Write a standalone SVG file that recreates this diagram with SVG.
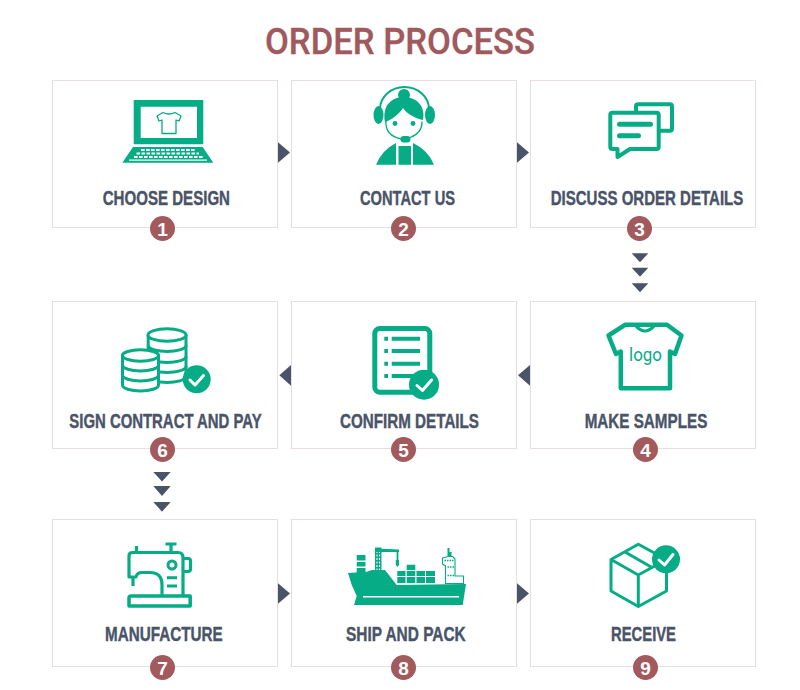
<svg xmlns="http://www.w3.org/2000/svg" width="800" height="690" viewBox="0 0 800 690">
<style>
.card{fill:#fff;stroke:#e8dde0;stroke-width:1}
.lbl{font-family:"Liberation Sans",Arial,sans-serif;font-weight:700;font-size:19.5px;fill:#4a5468;stroke:#4a5468;stroke-width:.4}
.badge{fill:#a25a5d}
.num{font-family:"Liberation Sans",Arial,sans-serif;font-weight:700;font-size:19px;fill:#fff;text-anchor:middle}
.g{fill:#06ac86}
.s{fill:none;stroke:#06ac86;stroke-linejoin:round;stroke-linecap:round}
.w{fill:#fff;stroke:#06ac86;stroke-linejoin:round}
.chk{fill:none;stroke:#fff;stroke-width:3;stroke-linecap:round;stroke-linejoin:round}
.arr{fill:#4a5468}
.key{fill:none;stroke:#fff;stroke-width:2.2;stroke-dasharray:3.6 1.4}
</style>
<rect width="800" height="690" fill="#fff"/>
<text id="title" x="265" y="53.500" textLength="270" lengthAdjust="spacingAndGlyphs" font-family="Roboto,'Liberation Sans',sans-serif" font-weight="500" font-size="36.500" fill="#a05a5e" stroke="#a05a5e" stroke-width=".3">ORDER PROCESS</text>

<g id="node1">
<rect class="card" x="52.500" y="80.500" width="225" height="147"/>
<path class="g" fill-rule="evenodd" d="M133.700 100H203.300V144.300H133.700ZM140.700 106.700V138H197V106.700Z"/>
<path class="s" stroke-width="1.300" d="M163 112.500l-6 3.500 2 5 3-1v13.500h14V120l3 1 2-5-6-3.500q-6 3-12 0Z"/>
<path class="g" d="M133 147H202.700L213.300 162.700H122.300Z"/>
<path class="key" d="M141 150H196M136.500 153.500H199M134 157H203"/>
<path d="M129 160.200H207" stroke="#fff" stroke-width="1.200"/>
<text class="lbl" x="102.700" y="205" textLength="127.300" lengthAdjust="spacingAndGlyphs">CHOOSE DESIGN</text>
<circle class="badge" cx="162.500" cy="228.500" r="12.500"/><text class="num" x="162.500" y="235.500">1</text>
</g>

<g id="node2">
<rect class="card" x="291.500" y="80.500" width="225" height="147"/>
<path class="s" stroke-width="2" d="M380 110V109A24.500 22 0 0 1 429 109V110"/>
<ellipse class="g" cx="378.500" cy="115" rx="5" ry="9"/>
<ellipse class="g" cx="430" cy="115" rx="5" ry="9"/>
<circle class="g" cx="404" cy="95" r="6"/>
<ellipse cx="404" cy="119" rx="17" ry="18" fill="#fff"/>
<path class="g" d="M385 122C382 105 392 97 404 97C416 97 426 106 423 120C415 118 407 114 403 108C399 114 392 120 385 122Z"/>
<circle class="g" cx="395" cy="123.500" r="2.400"/><circle class="g" cx="413" cy="123.500" r="2.400"/>
<path class="s" stroke-width="1.300" d="M386 120C385 130 390 137 402 139"/>
<path class="s" stroke-width="1.300" d="M422 122C422 130 417 135 410 137.500"/>
<rect class="g" x="400.500" y="136" width="10" height="6.500" rx="3.200"/>
<path class="g" d="M376 164.700Q382 150 396 143V164.700ZM398.500 146H411V164.700H398.500ZM413 143Q428 150 434 164.700H413Z"/>
<text class="lbl" x="360" y="205" textLength="95" lengthAdjust="spacingAndGlyphs">CONTACT US</text>
<circle class="badge" cx="403.500" cy="228.500" r="12.500"/><text class="num" x="403.500" y="235.500">2</text>
</g>

<g id="node3">
<rect class="card" x="530.500" y="80.500" width="225" height="147"/>
<path class="s" stroke-width="4" d="M636 112V106.500Q636 104.300 638.200 104.300H669.800Q672 104.300 672 106.500V128.500Q672 130.700 669.800 130.700H659"/>
<path class="s" fill="#fff" stroke-width="4" d="M612.500 112.700H656.500Q658.700 112.700 658.700 114.900V146.800Q658.700 149 656.500 149H630L617.500 157V149H612.500Q610.300 149 610.300 146.800V114.900Q610.300 112.700 612.500 112.700Z"/>
<path class="s" stroke-width="5" d="M619.500 124.300H650.500M619.500 135.700H638.500"/>
<text class="lbl" x="550.700" y="205" textLength="192.600" lengthAdjust="spacingAndGlyphs">DISCUSS ORDER DETAILS</text>
<circle class="badge" cx="639.500" cy="228.500" r="12.500"/><text class="num" x="639.500" y="235.500">3</text>
</g>

<g id="node4">
<rect class="card" x="530.500" y="301.500" width="225" height="147"/>
<path class="s" fill="#fff" stroke-width="4.500" d="M625 324.800H667L681.500 335.500L675 354L670 351.500V388.300H620.800V351.500L616 354L608.500 335.500Z"/>
<path class="s" stroke-width="3" d="M635 325Q645 337 655 325"/>
<text x="629" y="361" textLength="33" lengthAdjust="spacingAndGlyphs" font-family="Roboto,'Liberation Sans',sans-serif" font-size="18" fill="#06ac86">logo</text>
<text class="lbl" x="584.700" y="427.500" textLength="122.600" lengthAdjust="spacingAndGlyphs">MAKE SAMPLES</text>
<circle class="badge" cx="645.500" cy="449.500" r="12.500"/><text class="num" x="645.500" y="456.500">4</text>
</g>

<g id="node5">
<rect class="card" x="291.500" y="301.500" width="225" height="147"/>
<rect class="s" fill="#fff" stroke-width="5" x="374.800" y="328.500" width="55" height="63.700" rx="5"/>
<path class="s" stroke-width="4" d="M384.300 338.700H388M391.700 338.700H420M384.300 351H388M391.700 351H420M384.300 363.700H388M391.700 363.700H420M384.300 376H388M391.700 376H420" style="stroke-linecap:butt"/>
<circle class="g" cx="424" cy="384.700" r="15"/>
<path class="chk" d="M417 385.500L422.500 390.500L431.500 380"/>
<text class="lbl" x="340" y="427.500" textLength="139" lengthAdjust="spacingAndGlyphs">CONFIRM DETAILS</text>
<circle class="badge" cx="403.500" cy="449.500" r="12.500"/><text class="num" x="403.500" y="456.500">5</text>
</g>

<g id="node6">
<rect class="card" x="52.500" y="301.500" width="225" height="147"/>
<path class="w" stroke-width="3" d="M148.200 335V377A19 6 0 0 0 186 377V335Z"/>
<ellipse class="w" stroke-width="3" cx="167" cy="335" rx="19" ry="6.200"/>
<path class="s" stroke-width="3" d="M148.200 346A19 6 0 0 0 186 346M148.200 357A19 6 0 0 0 186 357M148.200 367A19 6 0 0 0 186 367"/>
<path class="w" stroke-width="3" d="M122.500 355V385A18 6 0 0 0 158.500 385V355Z"/>
<ellipse class="w" stroke-width="3" cx="140.500" cy="355.500" rx="18" ry="5.700"/>
<path class="s" stroke-width="3" d="M122.500 365A18 6 0 0 0 158.500 365M122.500 375A18 6 0 0 0 158.500 375"/>
<circle class="g" cx="196.700" cy="379.300" r="14"/>
<path class="chk" d="M190 380L195 385L203.500 375.500"/>
<text class="lbl" x="69.300" y="428" textLength="192.400" lengthAdjust="spacingAndGlyphs">SIGN CONTRACT AND PAY</text>
<circle class="badge" cx="162.500" cy="449.500" r="12.500"/><text class="num" x="162.500" y="456.500">6</text>
</g>

<g id="node7">
<rect class="card" x="52.500" y="519.500" width="225" height="147"/>
<path class="s" stroke-width="3.200" d="M162 595.500V585Q162 572.500 150 572.500H142Q137 572.500 136 577H129V556Q129 552.500 132.500 552.500H178Q183 552.500 183 557.500V595.500" style="stroke-linecap:butt"/>
<path class="s" stroke-width="3.200" d="M136.500 552V546M171 552V544M165.500 544H176.500M133 578V586M184 558.500H188Q190.500 558.500 190.500 561V569Q190.500 571.500 188 571.500H184" style="stroke-linecap:butt"/>
<circle class="s" stroke-width="3" cx="172" cy="565" r="4"/>
<path class="s" stroke-width="3" d="M167 577.700H177M167 586H177" style="stroke-linecap:butt"/>
<path class="s" stroke-width="3.500" d="M129 606V598Q129 596 131 596H190.200V606Z"/>
<text class="lbl" x="105" y="640.500" textLength="117.700" lengthAdjust="spacingAndGlyphs">MANUFACTURE</text>
<circle class="badge" cx="162.500" cy="667.500" r="12.500"/><text class="num" x="162.500" y="674.500">7</text>
</g>

<g id="node8">
<rect class="card" x="291.500" y="519.500" width="225" height="147"/>
<path class="g" d="M356.700 555H365.500V560.500H356.700ZM356.700 562H365.500V566.500H356.700ZM356.700 568H365.500V573.500H356.700Z"/>
<path class="g" d="M348 573L367 571.700L372 570L385 570L396.700 585L466 584L462.700 605H354L356.700 596Q351 585 348 573Z"/>
<path d="M363 596.700H459" stroke="#fff" stroke-width="1.500"/>
<path class="g" d="M375 547.500H381.500V572H375Z"/>
<path d="M377 551V570M379.500 551V570" stroke="#fff" stroke-width="1.100" stroke-dasharray="2 1.500"/>
<path class="g" d="M375 548.500L399 549.500V552L375 552Z"/>
<path class="s" stroke-width="1.800" d="M397.500 550.500V560" style="stroke-linecap:butt"/>
<path class="g" d="M395.800 560H399V565L397.500 567L395.800 565Z"/>
<path class="g" d="M406.700 564.700H415.300V570H406.700ZM397.300 571H405.500V576H397.300ZM406.700 571H415.300V576H406.700ZM416.500 571H425V576H416.500ZM426 571H435V576H426ZM397.300 577H405.500V583H397.300ZM406.700 577H415.300V583H406.700ZM416.500 577H425V583H416.500ZM426 577H435V583H426Z"/>
<path class="w" stroke-width="1.100" d="M442.500 561V558L448 556.500H452.500L455 559V576H463.500V583.500H445.500V566L442.500 564Z"/>
<path class="g" d="M447.500 548H449.500V552H451.500V556.500H447.500Z"/>
<path d="M444.500 560.500H454M447.500 567H454M447.500 575.500H454" stroke="#06ac86" stroke-width="1.300" stroke-dasharray="1.500 1"/>
<text class="lbl" x="346" y="640.500" textLength="119.700" lengthAdjust="spacingAndGlyphs">SHIP AND PACK</text>
<circle class="badge" cx="403.500" cy="667.500" r="12.500"/><text class="num" x="403.500" y="674.500">8</text>
</g>

<g id="node9">
<rect class="card" x="530.500" y="519.500" width="225" height="147"/>
<path class="s" stroke-width="3" d="M638.300 544.300L666.500 559.500V591L638.300 606.500L611 591V559.500ZM611 559.500L638.300 575L666.500 559.500M638.300 575V606.500M625 552L652 567.500"/>
<circle class="g" cx="666" cy="559.300" r="14"/>
<path class="chk" d="M659 560L664.500 565L673 554.500"/>
<text class="lbl" x="611" y="640.500" textLength="65" lengthAdjust="spacingAndGlyphs">RECEIVE</text>
<circle class="badge" cx="645.500" cy="667.500" r="12.500"/><text class="num" x="645.500" y="674.500">9</text>
</g>

<g id="connectors">
<path class="arr" d="M278 142.300L290 152.500L278 162.700Z"/>
<path class="arr" d="M517 142.300L529 152.500L517 162.700Z"/>
<path class="arr" d="M631.700 253.300H648.300L640 262.300ZM631.700 267.700H648.300L640 276.700ZM631.700 283.300H648.300L640 292.300Z"/>
<path class="arr" d="M530 365L518 375.300L530 385.700Z"/>
<path class="arr" d="M291 365L279.300 375.300L291 385.700Z"/>
<path class="arr" d="M153.300 472H170.700L162 481.500ZM153.300 486H170.700L162 496ZM153.300 502H170.700L162 511.700Z"/>
<path class="arr" d="M278 583.300L290 593.500L278 603.700Z"/>
<path class="arr" d="M517 583.300L529 593.500L517 603.700Z"/>
</g>
</svg>
